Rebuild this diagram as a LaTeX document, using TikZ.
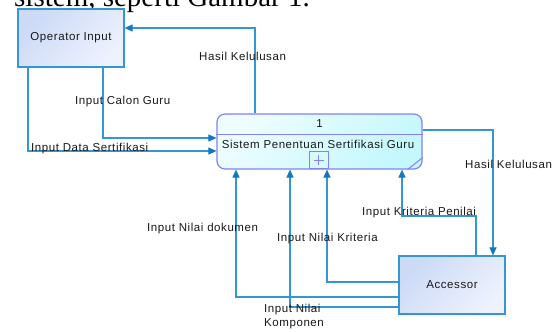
\documentclass[tikz,border=0pt]{standalone}
\usepackage{fontspec}
\setmainfont{Liberation Sans}[LetterSpace=5]
\newfontfamily\serifdoc{Liberation Serif}
\usetikzlibrary{arrows.meta,calc}
\definecolor{flowc}{RGB}{52,150,212}
\definecolor{tipc}{RGB}{14,122,196}
\definecolor{extbd}{RGB}{52,150,212}
\definecolor{extA}{RGB}{204,218,246}
\definecolor{extB}{RGB}{238,242,253}
\definecolor{procbd}{RGB}{128,130,245}
\definecolor{procA}{RGB}{238,253,255}
\definecolor{procB}{RGB}{196,248,252}
\definecolor{txt}{RGB}{25,25,25}
\tikzset{
  lbl/.style={font=\fontsize{11.5}{13}\selectfont, text=txt, inner sep=0pt},
  extbox/.style={draw=extbd, line width=1.2pt, minimum width=106pt, minimum height=58pt,
    inner sep=0pt, top color=extA, bottom color=extB, shading angle=45,
    font=\fontsize{11.5}{13}\selectfont, text=txt},
  procbox/.style={draw=procbd, line width=1.2pt, minimum width=205pt, minimum height=55pt,
    inner sep=0pt, rounded corners=8pt, top color=procA, bottom color=procB, shading angle=45},
  flow/.style={draw=flowc, line width=1.1pt, -{Triangle[length=8pt,width=7pt,color=tipc]}},
}
\begin{document}
\begin{tikzpicture}[x=1pt,y=-1pt]
\path[use as bounding box, clip] (0,0) rectangle (557,332);
\fill[white] (0,0) rectangle (557,332);
\node[anchor=base west, inner sep=0pt, font=\serifdoc\fontsize{29}{30}\selectfont, text=black] (head) at (14,6) {sistem, seperti Gambar 1.};

\node[extbox] (op) at (71,38) {Operator Input};
\node[procbox] (proc) at (319.5,141.5) {};
\node[extbox] (acc) at (452,285) {Accessor};

% process internals
\draw[procbd, line width=1pt] (proc.west |- 0,134) -- (proc.east |- 0,134);
\node[lbl] (pnum) at (319.5,124) {1};
\node[lbl] (pname) at (318,144) {Sistem Penentuan Sertifikasi Guru};
\node[draw=procbd, line width=1pt, minimum width=19pt, minimum height=17pt, inner sep=0pt, anchor=south] (plus) at (318.5,169) {};
\draw[procbd, line width=0.8pt] ($(plus.center)+(-5,0)$) -- ($(plus.center)+(5,0)$)
  ($(plus.center)+(0,-5)$) -- ($(plus.center)+(0,5)$);
\draw[procbd, line width=1pt] ($(proc.south east)+(-15,0)$) -- ($(proc.south east)+(0,-12)$);

% flows
\draw[flow] (proc.north -| 255,0) |- (op.east |- 0,28);
\draw[flow] (op.south -| 103,0) |- (proc.west |- 0,138);
\draw[flow] (op.south -| 28,0) |- (proc.west |- 0,151);
\draw[flow] (proc.east |- 0,130) -| (acc.north -| 493,0);
\draw[flow] (acc.north -| 476,0) -- (476,216) -| (proc.south -| 402,0);
\draw[flow] (acc.west |- 0,282) -| (proc.south -| 327,0);
\draw[flow] (acc.west |- 0,297) -| (proc.south -| 236,0);
\draw[flow] (acc.west |- 0,307) -| (proc.south -| 290,0);

% labels
\node[lbl, anchor=west] (l1) at (199,56) {Hasil Kelulusan};
\node[lbl, anchor=west] (l2) at (75,102) {Input Calon Guru};
\node[lbl, anchor=west] (l3) at (31,149) {Input Data Sertifikasi};
\node[lbl, anchor=west] (l4) at (465,164) {Hasil Kelulusan};
\node[lbl, anchor=west] (l5) at (362,213) {Input Kriteria Penilai};
\node[lbl, anchor=west] (l6) at (277,239) {Input Nilai Kriteria};
\node[lbl, anchor=west] (l7) at (147,229) {Input Nilai dokumen};
\node[lbl, anchor=north west, align=left, font=\fontsize{11.5}{14}\selectfont] (l8) at (264,304) {Input Nilai\\Komponen};
\end{tikzpicture}
\end{document}
